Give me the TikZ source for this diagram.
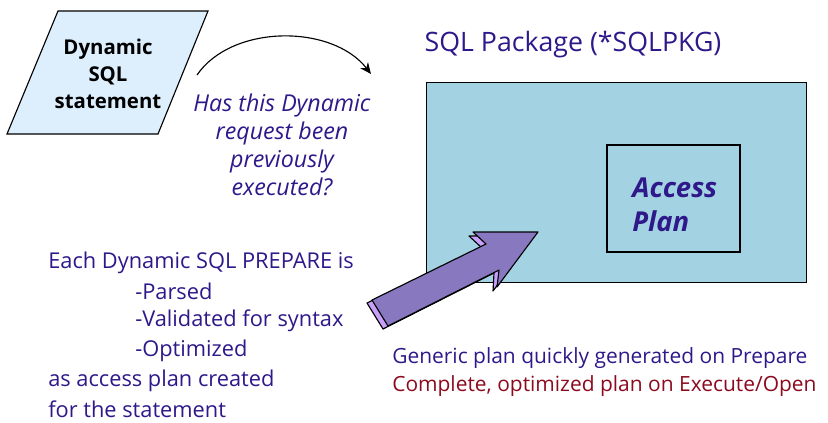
\documentclass[tikz,border=0pt]{standalone}
\usepackage{fontspec}
\setmainfont{Open Sans}
\usepackage{tikz}
\usetikzlibrary{arrows.meta}
\definecolor{stmtblue}{RGB}{221,238,252}
\definecolor{pkgblue}{RGB}{163,211,227}
\definecolor{ink}{RGB}{46,24,138}
\definecolor{darkred}{RGB}{140,10,30}
\definecolor{arrowfront}{RGB}{136,120,192}
\definecolor{arrowside}{RGB}{200,160,250}
\tikzset{
  txt/.style={inner sep=0pt,font=\fontsize{15.5}{18}\selectfont},
  lft/.style={txt,anchor=west,text=ink},
  note/.style={txt,anchor=west,font=\fontsize{14.9}{18}\selectfont},
}

\begin{document}
\begin{tikzpicture}[x=0.025cm,y=-0.025cm,>=stealth]
\useasboundingbox (0,0) rectangle (828,422);
% statement box
\draw[thick,fill=stmtblue] (58,11) -- (208,11) -- (158,134) -- (7,134) -- cycle;
\node[txt,align=center,font=\fontsize{14.5}{17}\selectfont\bfseries] (stmt) at (108,74) {Dynamic\\[2pt]SQL\\[2pt]statement};
% curved arrow
\coordinate (from) at (197,75);
\coordinate (to) at (371,74);
\draw[thick,-{Stealth[length=8pt,width=7pt]}] (from) .. controls (232,24) and (332,24) .. (to);
\node[txt,align=center,text=ink,font=\fontsize{16.5}{19}\selectfont\itshape] (ask) at (282,145) {Has this Dynamic\\[1pt]request been\\[1pt]previously\\[1pt]executed?};
% package
\node[txt,text=ink,font=\fontsize{19}{22}\selectfont] (pkgtitle) at (573,45) {SQL Package (*SQLPKG)};
\draw[fill=pkgblue] (426,82) rectangle (806,282);
\draw[thick] (607,145) rectangle (740,252);
\node[txt,anchor=west,text=ink,font=\fontsize{19.5}{22}\selectfont\bfseries\itshape] (plan1) at (632,188) {Access};
\node[txt,anchor=west,text=ink,font=\fontsize{19.5}{22}\selectfont\bfseries\itshape] (plan2) at (632,221) {Plan};
% fat arrow
\draw[thick,fill=arrowside,line join=round] (367,303) -- (482,248) -- (469,236) -- (534,236) -- (493,291) -- (494,273) -- (383,329) -- cycle;
\draw[thick,fill=arrowfront,line join=round] (372,300) -- (486,244) -- (473,232) -- (538,232) -- (497,287) -- (499,270) -- (388,326) -- cycle;
% left text
\node[lft] (each) at (48,263) {Each Dynamic SQL PREPARE is};
\node[lft] (parsed) at (135,291) {-Parsed};
\node[lft] (valid) at (135,321) {-Validated for syntax};
\node[lft] (optim) at (135,351) {-Optimized};
\node[lft] (asplan) at (48,381) {as access plan created};
\node[lft] (forst) at (48,409) {for the statement};
% bottom right
\node[note,text=ink] (generic) at (392,358) {Generic plan quickly generated on Prepare};
\node[note,text=darkred] (complete) at (392,386) {Complete, optimized plan on Execute/Open};
\end{tikzpicture}
\end{document}
